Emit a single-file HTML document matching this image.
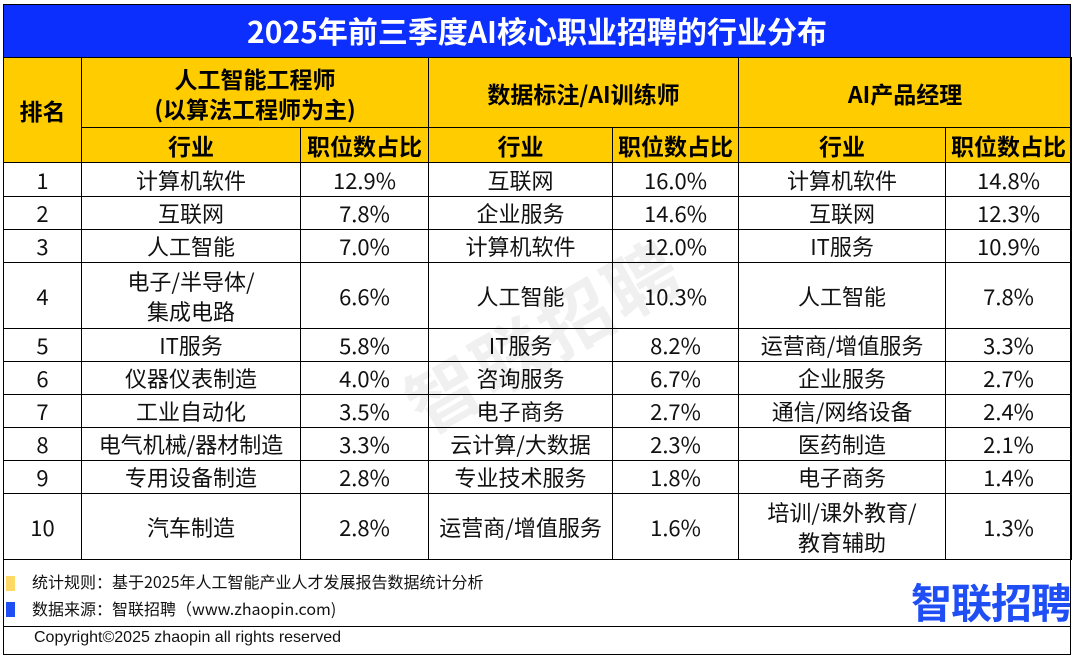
<!DOCTYPE html>
<html><head><meta charset="utf-8">
<style>
*{margin:0;padding:0;box-sizing:border-box}
body{width:1075px;height:657px;background:#fff;position:relative;overflow:hidden;font-family:"Liberation Sans","Noto Sans CJK SC",sans-serif}
#frame{position:absolute;left:3px;top:4px;width:1068px;height:651px;border:1.5px solid #000}
#title{position:absolute;left:3px;top:4px;width:1068px;height:53px;background:#0c2ffd;color:#fff;font-weight:bold;font-size:30px;text-align:center;line-height:53px;font-family:"Noto Sans CJK SC",sans-serif}
table{position:absolute;left:3px;top:57px;width:1068px;border-collapse:collapse;table-layout:fixed}
td{border:1.5px solid #000;text-align:center;vertical-align:middle;font-size:22px;line-height:30px;font-family:"Noto Sans CJK SC",sans-serif;color:#111}
.h td{background:#ffcc00;font-weight:bold;color:#000;font-size:23px}
#wm{position:absolute;left:390px;top:280px;font-size:72px;font-weight:bold;color:rgba(0,0,0,0.06);transform:rotate(-30deg);font-family:"Noto Sans CJK SC",sans-serif;letter-spacing:4px}
.note{position:absolute;left:32px;font-size:16px;color:#111;font-family:"Noto Sans CJK SC",sans-serif}
.sq{position:absolute;left:6px;width:9px;height:15px}
#logo{position:absolute;left:911px;top:570px;font-size:41px;font-weight:bold;color:#1f4ef5;font-family:"Noto Sans CJK SC",sans-serif;letter-spacing:-1px}
#line{position:absolute;left:3px;top:626px;width:1068px;border-top:1.5px solid #000}
#copy{position:absolute;left:34px;top:629px;font-size:16px;color:#111}
</style></head><body>
<div id="title">2025年前三季度AI核心职业招聘的行业分布</div>
<table>
<colgroup><col style="width:78px"><col style="width:219px"><col style="width:128px"><col style="width:184px"><col style="width:126px"><col style="width:207px"><col style="width:126px"></colgroup>
<tr class="h" style="height:70px"><td rowspan="2">排名</td><td colspan="2">人工智能工程师<br>(以算法工程师为主)</td><td colspan="2">数据标注/AI训练师</td><td colspan="2">AI产品经理</td></tr>
<tr class="h" style="height:35px"><td>行业</td><td>职位数占比</td><td>行业</td><td>职位数占比</td><td>行业</td><td>职位数占比</td></tr>
<tbody id="body"></tbody>
</table>
<div id="wm">智联招聘</div>
<div class="sq" style="top:576px;background:#ffd966"></div>
<div class="sq" style="top:602px;background:#1f4ef5"></div>
<div class="note" style="top:569px">统计规则：基于2025年人工智能产业人才发展报告数据统计分析</div>
<div class="note" style="top:596px">数据来源：智联招聘（www.zhaopin.com)</div>
<div id="logo">智联招聘</div>
<div id="line"></div>
<div id="copy">Copyright©2025 zhaopin all rights reserved</div>
<div id="frame"></div>
<script>
const ranks=[1,2,3,4,5,6,7,8,9,10];
const aiIndustry=["计算机软件","互联网","人工智能","电子/半导体/<br>集成电路","IT服务","仪器仪表制造","工业自动化","电气机械/器材制造","专用设备制造","汽车制造"];
const aiShare=["12.9%","7.8%","7.0%","6.6%","5.8%","4.0%","3.5%","3.3%","2.8%","2.8%"];
const daIndustry=["互联网","企业服务","计算机软件","人工智能","IT服务","咨询服务","电子商务","云计算/大数据","专业技术服务","运营商/增值服务"];
const daShare=["16.0%","14.6%","12.0%","10.3%","8.2%","6.7%","2.7%","2.3%","1.8%","1.6%"];
const pmIndustry=["计算机软件","互联网","IT服务","人工智能","运营商/增值服务","企业服务","通信/网络设备","医药制造","电子商务","培训/课外教育/<br>教育辅助"];
const pmShare=["14.8%","12.3%","10.9%","7.8%","3.3%","2.7%","2.4%","2.1%","1.4%","1.3%"];
const heights=[34,33,33,66,33,33,33,33,33,66];
const body=document.getElementById('body');
ranks.forEach((r,i)=>{
  const tr=document.createElement('tr');
  tr.style.height=heights[i]+'px';
  
  
  [r,aiIndustry[i],aiShare[i],daIndustry[i],daShare[i],pmIndustry[i],pmShare[i]].forEach(v=>{
    const td=document.createElement('td');
    td.innerHTML=v;
    
    
    tr.appendChild(td);
  });
  body.appendChild(tr);
});
</script>
</body></html>
